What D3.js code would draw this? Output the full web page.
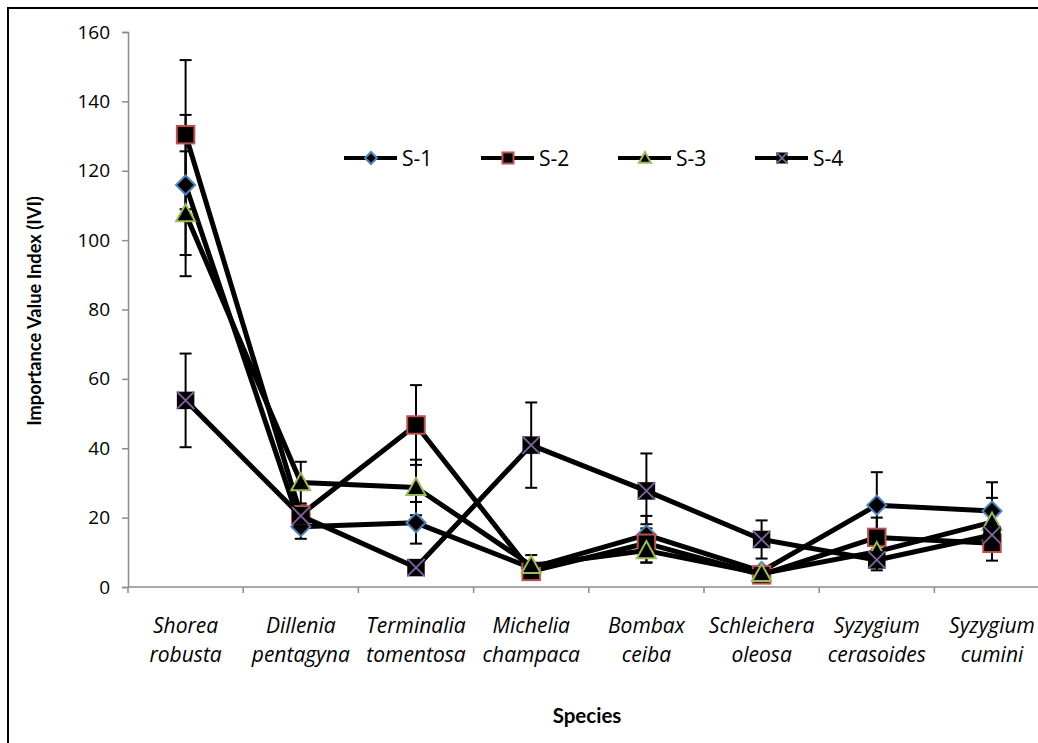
<!DOCTYPE html>
<html><head><meta charset="utf-8">
<script src="https://cdn.jsdelivr.net/npm/d3@7"></script>
<style>
html,body{margin:0;padding:0;background:#fff;overflow:hidden}
svg{display:block;font-family:Lato,"Open Sans",sans-serif}
</style></head>
<body>
<svg id="chart" width="1038" height="743"></svg>
<script>
const categories = [
  ["Shorea","robusta"],["Dillenia","pentagyna"],["Terminalia","tomentosa"],["Michelia","champaca"],
  ["Bombax","ceiba"],["Schleichera","oleosa"],["Syzygium","cerasoides"],["Syzygium","cumini"]
];
const seriesNames = ["S-1","S-2","S-3","S-4"];
const s1 = [115.9, 17.4, 18.5, 5.5, 15.0, 4.5, 23.6, 21.9];
const s2 = [130.4, 20.8, 46.7, 4.5, 12.6, 3.5, 14.3, 12.6];
const s3 = [107.6, 30.1, 28.7, 6.2, 10.5, 3.9, 10.2, 18.7];
const s4 = [53.8, 20.5, 5.6, 40.9, 27.7, 13.7, 7.8, 15.0];
const e1 = [20.2, 3.5, 6.0, 1.5, 5.5, 1.5, 9.5, 8.3];
const e2 = [21.5, 2.5, 11.5, 1.5, 5.5, 1.0, 5.7, 5.0];
const e3 = [18.0, 6.0, 8.0, 3.0, 3.5, 1.5, 3.0, 7.0];
const e4 = [13.5, 3.0, 2.0, 12.3, 10.8, 5.5, 3.0, 3.0];
const yTicks = [0,20,40,60,80,100,120,140,160];
const yTitle = "Importance Value Index (IVI)";
const xTitle = "Species";

const values = [s1,s2,s3,s4];
const errors = [e1,e2,e3,e4];
const strokeCols = ["#4F81BD","#C0504D","#9BBB59","#8064A2"];
const shapes = ["diamond","square","triangle","x"];

const svg = d3.select("#chart");
const axisCol = "#8c8c8c";
const x = d3.scaleBand().domain(d3.range(categories.length)).range([128, 128 + 8*115.2]).paddingInner(0).paddingOuter(0);
const y = d3.scaleLinear().domain([0,160]).range([587, 32]);
const cx = i => x(i) + x.bandwidth()/2;

// outer frame (extends beyond viewport right/bottom)
svg.append("rect").attr("x",8).attr("y",8).attr("width",1100).attr("height",800)
  .attr("fill","none").attr("stroke","#000").attr("stroke-width",2);

// y axis
const yAx = svg.append("g").attr("transform","translate(128,0)")
  .call(d3.axisLeft(y).tickValues(yTicks).tickSize(6).tickPadding(12).tickFormat(d3.format("d")));
yAx.select(".domain").attr("stroke",axisCol).attr("stroke-width",1.5);
yAx.selectAll(".tick line").attr("stroke",axisCol).attr("stroke-width",1.5);
yAx.selectAll(".tick text").attr("font-size",19).attr("fill","#000").attr("font-family","'Open Sans', sans-serif");

// x axis
svg.append("line").attr("x1",128).attr("x2",1100).attr("y1",y(0)).attr("y2",y(0))
  .attr("stroke",axisCol).attr("stroke-width",1.5);
svg.append("g").selectAll("line").data(d3.range(categories.length+1)).join("line")
  .attr("x1",i=>x(0)+i*x.bandwidth()).attr("x2",i=>x(0)+i*x.bandwidth())
  .attr("y1",y(0)).attr("y2",y(0)+6).attr("stroke",axisCol).attr("stroke-width",1.5);

// category labels
const lab = svg.append("g").selectAll("text").data(categories).join("text")
  .attr("text-anchor","middle").attr("font-size",21).attr("font-style","italic").attr("fill","#000")
  .attr("font-family","'Open Sans', sans-serif");
lab.each(function(d,i){
  const t = d3.select(this);
  t.append("tspan").attr("x",cx(i)).attr("y",633).text(d[0]);
  t.append("tspan").attr("x",cx(i)).attr("y",662).text(d[1]);
});

// titles
svg.append("text").attr("x",587).attr("y",723).attr("text-anchor","middle")
  .attr("font-size",20.5).attr("font-weight","bold").text(xTitle);
svg.append("text").attr("transform","translate(41,311) rotate(-90)").attr("text-anchor","middle")
  .attr("font-size",18.3).attr("font-weight","bold").text(yTitle);

// error bars
const eb = svg.append("g");
values.forEach((vals,s)=>{
  vals.forEach((v,i)=>{
    const lo = v - errors[s][i], hi = v + errors[s][i];
    eb.append("line").attr("x1",cx(i)).attr("x2",cx(i)).attr("y1",y(lo)).attr("y2",y(hi)).attr("stroke","#000").attr("stroke-width",2);
    [lo,hi].forEach(b=>eb.append("line").attr("x1",cx(i)-6).attr("x2",cx(i)+6).attr("y1",y(b)).attr("y2",y(b)).attr("stroke","#000").attr("stroke-width",2));
  });
});

function drawMarker(g, shape, px, py, size, col){
  const h = size/2;
  if(shape==="diamond"){
    g.append("path").attr("d",`M${px},${py-h}L${px+h},${py}L${px},${py+h}L${px-h},${py}Z`)
      .attr("fill","#000").attr("stroke",col).attr("stroke-width",2);
  } else if(shape==="square"){
    const a = h*0.92;
    g.append("rect").attr("x",px-a).attr("y",py-a).attr("width",2*a).attr("height",2*a)
      .attr("fill","#000").attr("stroke",col).attr("stroke-width",2);
  } else if(shape==="triangle"){
    g.append("path").attr("d",`M${px},${py-h}L${px+h},${py+h*0.8}L${px-h},${py+h*0.8}Z`)
      .attr("fill","#000").attr("stroke",col).attr("stroke-width",2);
  } else {
    const a = h*0.92;
    g.append("rect").attr("x",px-a).attr("y",py-a).attr("width",2*a).attr("height",2*a).attr("fill","#000");
    g.append("path").attr("d",`M${px-a},${py-a}L${px+a},${py+a}M${px+a},${py-a}L${px-a},${py+a}`)
      .attr("stroke",col).attr("stroke-width",1.8).attr("fill","none");
  }
}

const line = d3.line().x((d,i)=>cx(i)).y(d=>y(d));
values.forEach((vals,s)=>{
  const g = svg.append("g");
  g.append("path").datum(vals).attr("d",line).attr("fill","none").attr("stroke","#000")
    .attr("stroke-width",5).attr("stroke-linejoin","round");
  vals.forEach((v,i)=>drawMarker(g, shapes[s], cx(i), y(v), 19, strokeCols[s]));
});

// legend
const legX = [344, 481, 618, 755];
const lg = svg.append("g");
seriesNames.forEach((n,s)=>{
  const x0 = legX[s], ly = 158;
  lg.append("line").attr("x1",x0).attr("x2",x0+53).attr("y1",ly).attr("y2",ly).attr("stroke","#000").attr("stroke-width",4);
  drawMarker(lg, shapes[s], x0+27, ly, 12, strokeCols[s]);
  lg.append("text").attr("x",x0+58).attr("y",ly+7.5).attr("font-size",21)
    .attr("font-family","'Open Sans', sans-serif").text(n);
});
</script>
</body></html>
